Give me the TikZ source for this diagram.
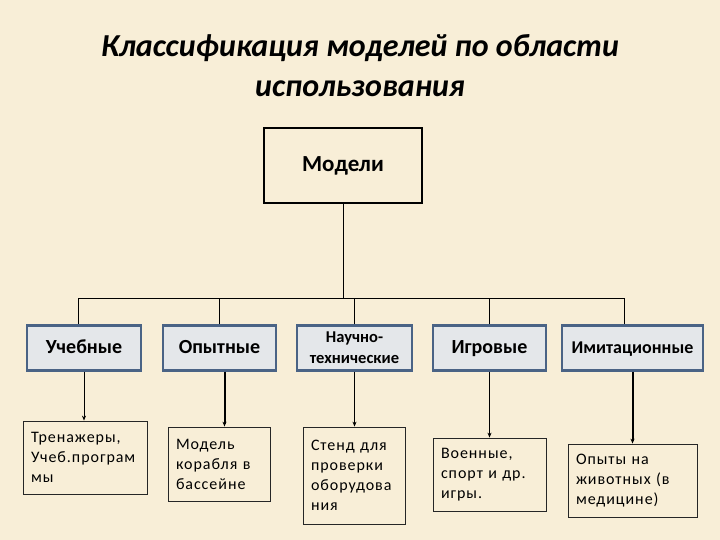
\documentclass[tikz,border=0pt]{standalone}
\usepackage{fontspec}
\setmainfont{Carlito}
\newfontfamily\wideface[LetterSpace=6]{Carlito}
\usetikzlibrary{arrows.meta, positioning}
\definecolor{mPaper}{HTML}{F8EED7}
\definecolor{mSlate}{HTML}{4A6385}
\definecolor{mMist}{HTML}{E4E7EA}

\begin{document}
\begin{tikzpicture}[x=1pt, y=-1pt,
      cat/.style={draw=mSlate, line width=2.4pt, fill=mMist, align=center,
        minimum height=45, font=\bfseries\fontsize{20}{22}\selectfont},
      onerow/.style={cat, text height=14pt, text depth=4pt},
      leaf/.style={draw=black!85, line width=0.8pt, align=left, inner xsep=8pt,
        inner ysep=0pt, font=\wideface\fontsize{16}{20}\selectfont},
      tip/.style={-{Stealth[length=5pt, width=4pt]}, line width=0.8pt},
      bigtip/.style={-{Stealth[length=5pt, width=4pt]}, line width=2pt}]
    \fill[mPaper] (0,0) rectangle (720,540);
    \useasboundingbox (0,0) rectangle (720,540);
    \node[anchor=base, align=center, font=\bfseries\itshape\fontsize{32}{40}\selectfont] (title) at (360,97)
      {Классификация моделей по области\\использования};
    \node[draw, line width=1.8pt, minimum width=158, minimum height=75,
      font=\bfseries\fontsize{23}{26}\selectfont] (models) at (343,165.5) {Модели};
    \node[onerow, minimum width=114] (ucheb) at (84,348)    {Учебные};
    \node[onerow, minimum width=113] (opyt)  at (219.5,348) {Опытные};
    \node[cat, minimum width=115, font=\bfseries\fontsize{16.5}{21}\selectfont] (nauch) at (354.5,348) {Научно-\\технические};
    \node[onerow, minimum width=113] (igr)   at (489.5,348) {Игровые};
    \node[onerow, minimum width=141, font=\bfseries\fontsize{18}{22}\selectfont] (imit) at (632.5,348) {Имитационные};
    \node[leaf, text width=108, minimum height=73] (tren)  at (85,457.5)    {Тренажеры,\\Учеб.програм\\мы};
    \node[leaf, text width=86,  minimum height=74] (korab) at (219,464)     {Модель\\корабля в\\бассейне};
    \node[leaf, text width=86,  minimum height=97] (stend) at (354,475.5)   {Стенд для\\проверки\\оборудова\\ния};
    \node[leaf, text width=97,  minimum height=73] (voen)  at (489.5,474.5) {Военные,\\спорт и др.\\игры.};
    \node[leaf, text width=113, minimum height=73] (opyty) at (632.5,480.5) {Опыты на\\животных (в\\медицине)};
    \coordinate (busL) at (78,298);
    \coordinate (busR) at (624,298);
    \draw[line width=1pt] (models.south) -- (models.south |- busL);
    \draw[line width=1pt] (busL) -- (busR);
    \draw[line width=1pt] (busL) -- (busL |- ucheb.north);
    \draw[line width=1pt] (opyt.north) -- (opyt.north |- busL);
    \draw[line width=1pt] (nauch.north) -- (nauch.north |- busL);
    \draw[line width=1pt] (igr.north) -- (igr.north |- busL);
    \draw[line width=1pt] (busR) -- (busR |- imit.north);
    \draw[tip] (ucheb.south) -- (ucheb.south |- tren.north);
    \draw[bigtip] ([xshift=5pt]opyt.south) -- ([xshift=5pt]opyt.south |- korab.north);
    \draw[tip] (nauch.south) -- (nauch.south |- stend.north);
    \draw[tip] (igr.south) -- (igr.south |- voen.north);
    \draw[bigtip] (imit.south) -- (imit.south |- opyty.north);
  \end{tikzpicture}
\end{document}
